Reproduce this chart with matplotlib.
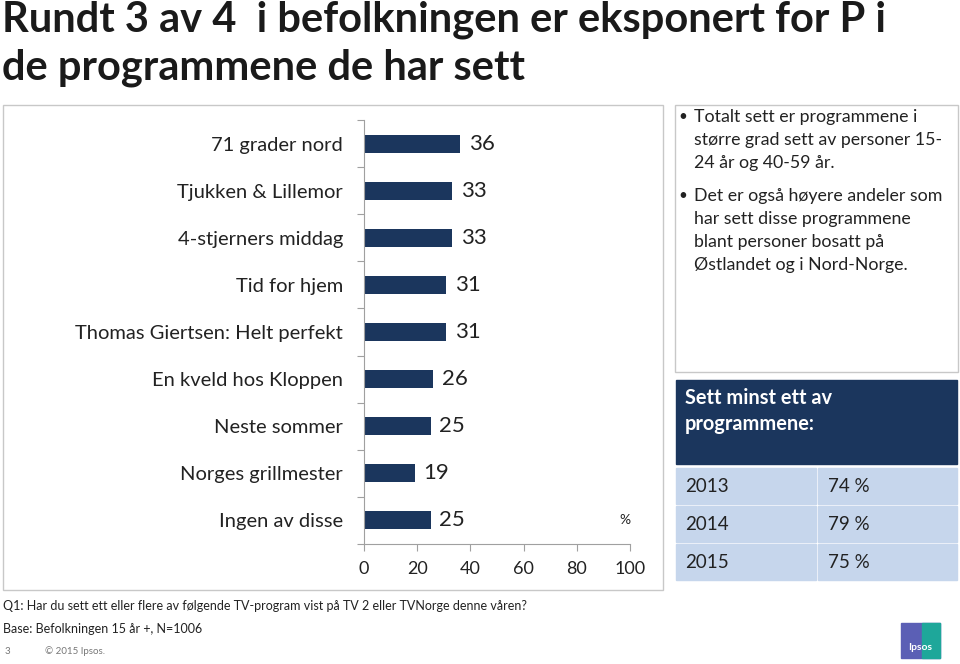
import numpy as np
import matplotlib.pyplot as plt
from matplotlib.patches import Rectangle

plt.rcParams['font.family'] = ['Lato', 'DejaVu Sans']

# data
programs = ["71 grader nord", "Tjukken & Lillemor", "4-stjerners middag", "Tid for hjem",
            "Thomas Giertsen: Helt perfekt", "En kveld hos Kloppen", "Neste sommer",
            "Norges grillmester", "Ingen av disse"]
shares = [36, 33, 33, 31, 31, 26, 25, 19, 25]
years = ["2013", "2014", "2015"]
seen_any = ["74 %", "79 %", "75 %"]
xticks = [0, 20, 40, 60, 80, 100]

W, H = 960, 664
NAVY = '#1b365d'
LIGHT = '#c6d6ec'

def fx(x):
    return x / W

def fy(y):
    return 1 - y / H

fig = plt.figure(figsize=(9.6, 6.64), dpi=100)
fig.patch.set_facecolor('white')

# title
fig.text(fx(2), fy(20), "Rundt 3 av 4  i befolkningen er eksponert for P i", fontsize=30,
         fontweight='bold', va='center', ha='left', color='#1a1a1a')
fig.text(fx(2), fy(68), "de programmene de har sett", fontsize=30,
         fontweight='bold', va='center', ha='left', color='#1a1a1a')

# panel frames
fig.add_artist(Rectangle((fx(3), fy(590)), fx(663) - fx(3), fy(105) - fy(590),
                         transform=fig.transFigure, fill=False, ec='#c8c8c8', lw=1))
fig.add_artist(Rectangle((fx(675), fy(372)), fx(958) - fx(675), fy(105) - fy(372),
                         transform=fig.transFigure, fill=False, ec='#c8c8c8', lw=1))

# bar chart
ax = fig.add_axes([fx(364), fy(544), fx(630) - fx(364), fy(120) - fy(544)])
ypos = np.arange(len(programs))
ax.barh(ypos, shares, height=0.38, color=NAVY)
for y, v in zip(ypos, shares):
    ax.text(v + 3.3, y, str(v), va='center', ha='left', fontsize=16, color='#222222')
ax.set_xlim(0, 100)
ax.set_ylim(len(programs) - 0.5, -0.5)
ax.set_yticks(ypos)
ax.set_yticklabels(programs, fontsize=14.5, color='#222222')
ax.set_yticks(np.arange(len(programs) + 1) - 0.5, minor=True)
ax.tick_params(axis='y', which='major', length=0, pad=15)
ax.tick_params(axis='y', which='minor', length=5, color='#a0a0a0', width=0.8)
ax.set_xticks(xticks)
ax.tick_params(axis='x', length=5, color='#a0a0a0', width=0.8, labelsize=13,
               labelcolor='#222222', pad=7)
for s in ['top', 'right']:
    ax.spines[s].set_visible(False)
for s in ['left', 'bottom']:
    ax.spines[s].set_color('#a0a0a0')
    ax.spines[s].set_linewidth(0.8)
ax.text(1.0, len(programs) - 1, "%", ha='right', va='center', fontsize=10,
        color='#222222', transform=ax.get_yaxis_transform())

# comment box
lines = [(117, True, "Totalt sett er programmene i"),
         (140, False, "større grad sett av personer 15-"),
         (163, False, "24 år og 40-59 år."),
         (196, True, "Det er også høyere andeler som"),
         (219, False, "har sett disse programmene"),
         (242, False, "blant personer bosatt på"),
         (265, False, "Østlandet og i Nord-Norge.")]
for y, bullet, txt in lines:
    if bullet:
        fig.text(fx(678), fy(y), "•", fontsize=11, va='center', ha='left', color='#222222')
    fig.text(fx(694), fy(y), txt, fontsize=12.8, va='center', ha='left', color='#222222')

# summary table
fig.add_artist(Rectangle((fx(676), fy(464)), fx(957) - fx(676), fy(380) - fy(464),
                         transform=fig.transFigure, color=NAVY))
fig.text(fx(685), fy(398), "Sett minst ett av", fontsize=14.4, fontweight='bold',
         color='white', va='center', ha='left')
fig.text(fx(685), fy(424), "programmene:", fontsize=14.4, fontweight='bold',
         color='white', va='center', ha='left')
row_top = 468
for yr, val in zip(years, seen_any):
    fig.add_artist(Rectangle((fx(676), fy(row_top + 36)), fx(816) - fx(676), fy(row_top) - fy(row_top + 36),
                             transform=fig.transFigure, color=LIGHT))
    fig.add_artist(Rectangle((fx(818), fy(row_top + 36)), fx(957) - fx(818), fy(row_top) - fy(row_top + 36),
                             transform=fig.transFigure, color=LIGHT))
    fig.text(fx(685), fy(row_top + 18), yr, fontsize=13.5, color='#222222', va='center', ha='left')
    fig.text(fx(828), fy(row_top + 18), val, fontsize=13.5, color='#222222', va='center', ha='left')
    row_top += 38

# footer
fig.text(fx(3), fy(606), "Q1: Har du sett ett eller flere av følgende TV-program vist på TV 2 eller TVNorge denne våren?",
         fontsize=9, color='#222222', va='center', ha='left')
fig.text(fx(3), fy(629), "Base: Befolkningen 15 år +, N=1006", fontsize=9, color='#222222',
         va='center', ha='left')
fig.text(fx(5), fy(651), "3", fontsize=7, color='#777777', va='center', ha='left')
fig.text(fx(45), fy(651), "© 2015 Ipsos.", fontsize=7, color='#777777', va='center', ha='left')

# logo
fig.add_artist(Rectangle((fx(901), fy(658)), fx(940) - fx(901), fy(623) - fy(658),
                         transform=fig.transFigure, color='#5b5fb5'))
fig.add_artist(Rectangle((fx(922), fy(658)), fx(940) - fx(922), fy(623) - fy(658),
                         transform=fig.transFigure, color='#1ea79a'))
fig.text(fx(920), fy(648), "Ipsos", fontsize=7.5, fontweight='bold', color='white',
         va='center', ha='center')

fig.savefig("out.png", dpi=100)
